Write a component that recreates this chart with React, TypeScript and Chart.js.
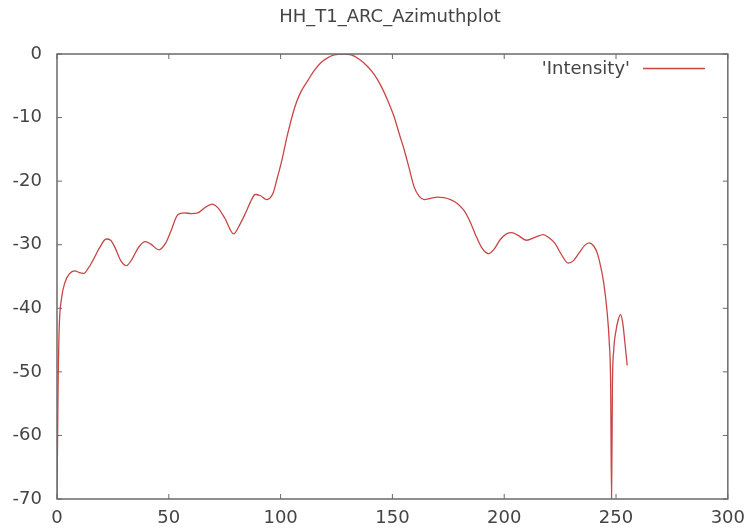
import React, { useEffect, useRef } from "react";
import { Chart, registerables } from "chart.js";

Chart.register(...registerables);

const TITLE = "HH_T1_ARC_Azimuthplot";
const SERIES_LABEL = "'Intensity'";
const X_TICKS = [0, 50, 100, 150, 200, 250, 300];
const Y_TICKS = [-70, -60, -50, -40, -30, -20, -10, 0];

const azimuth = [
  0, 0.5, 1, 2, 3.5, 5.5, 8, 10, 12, 14, 16, 19, 22, 24, 26, 28.5, 31, 33.5, 36.5, 39.5,
  42, 45.5, 48.5, 51, 54, 57, 60, 63, 66, 69.3, 72, 75, 79, 81.5, 84.2, 86.5, 88.6, 91,
  93.8, 96.5, 98.5, 100.5, 103, 106.4, 109, 112.3, 115, 118.2, 121, 124, 128, 131.6, 135,
  139, 142, 145, 148, 150.8, 153, 155.3, 157.5, 159.7, 162, 164.2, 167, 170, 173, 176,
  179, 182, 184.5, 187, 190, 193, 195.5, 198, 201, 203.5, 206, 210, 214, 217.5, 220,
  222.7, 225.5, 228.6, 231, 233.5, 236, 238, 240, 241.5, 243, 244.5, 246, 247, 247.6,
  248, 248.4, 249, 250, 251, 252, 253, 254, 255,
];

const intensity = [
  -70, -52, -43, -38.5, -36, -34.6, -34.1, -34.4, -34.5, -33.7, -32.5, -30.5, -29.1,
  -29.3, -30.5, -32.5, -33.3, -32.3, -30.4, -29.5, -29.9, -30.8, -29.8, -27.8, -25.3,
  -25.0, -25.1, -25.0, -24.2, -23.6, -24.2, -25.8, -28.3, -27.0, -25.1, -23.3, -22.1,
  -22.3, -22.9, -22.0, -19.5, -16.8, -12.8, -8.3, -6.0, -4.1, -2.6, -1.3, -0.6, -0.15,
  0, -0.15, -0.8, -2.0, -3.3, -5.1, -7.4, -9.9, -12.5, -15.1, -18.0, -20.9, -22.4,
  -22.9, -22.7, -22.5, -22.6, -22.9, -23.5, -24.6, -26.2, -28.3, -30.5, -31.4, -30.7,
  -29.3, -28.3, -28.1, -28.5, -29.3, -28.8, -28.4, -28.9, -29.8, -31.5, -32.9, -32.5,
  -31.3, -30.1, -29.7, -30.2, -31.2, -33.2, -36.0, -40.5, -45.5, -52, -70, -52, -46.5,
  -43.5, -41.8, -41.0, -42.3, -45.5, -49,
];

const LINE_COLOR = "#c84646";
const FRAME_COLOR = "#6a6a6a";
const TEXT_COLOR = "#444444";
const FONT_FAMILY = "'DejaVu Sans', sans-serif";

const framePlugin = {
  id: "gnuFrame",
  afterDraw(chart: any) {
    const { ctx, chartArea } = chart;
    const { left, right, top, bottom } = chartArea;
    const xs = chart.scales.x;
    const ys = chart.scales.y;
    ctx.save();
    ctx.strokeStyle = FRAME_COLOR;
    ctx.lineWidth = 1.5;
    ctx.strokeRect(left, top, right - left, bottom - top);
    ctx.lineWidth = 1;
    const tl = 5;
    ctx.beginPath();
    X_TICKS.forEach((v) => {
      const px = xs.getPixelForValue(v);
      ctx.moveTo(px, bottom);
      ctx.lineTo(px, bottom - tl);
      ctx.moveTo(px, top);
      ctx.lineTo(px, top + tl);
    });
    Y_TICKS.forEach((v) => {
      const py = ys.getPixelForValue(v);
      ctx.moveTo(left, py);
      ctx.lineTo(left + tl, py);
      ctx.moveTo(right, py);
      ctx.lineTo(right - tl, py);
    });
    ctx.stroke();

    // title
    ctx.fillStyle = TEXT_COLOR;
    ctx.font = `18px ${FONT_FAMILY}`;
    ctx.textAlign = "center";
    ctx.textBaseline = "middle";
    ctx.fillText(TITLE, 390, 17);

    // legend
    ctx.textAlign = "right";
    ctx.fillText(SERIES_LABEL, 630, 69);
    ctx.strokeStyle = LINE_COLOR;
    ctx.lineWidth = 1.3;
    ctx.beginPath();
    ctx.moveTo(643, 68.5);
    ctx.lineTo(705, 68.5);
    ctx.stroke();
    ctx.restore();
  },
};

export default function App() {
  const ref = useRef<HTMLCanvasElement | null>(null);

  useEffect(() => {
    document.body.style.margin = "0";
    const canvas = ref.current;
    if (!canvas) return;
    const points = azimuth.map((x, i) => ({ x, y: intensity[i] }));
    const chart = new Chart(canvas, {
      type: "line",
      data: {
        datasets: [
          {
            label: SERIES_LABEL,
            data: points,
            borderColor: LINE_COLOR,
            borderWidth: 1.3,
            pointRadius: 0,
            fill: false,
            cubicInterpolationMode: "monotone",
          },
        ],
      },
      options: {
        animation: false,
        responsive: false,
        maintainAspectRatio: false,
        layout: { padding: { left: 0, right: 22, top: 54, bottom: 0 } },
        plugins: {
          legend: { display: false },
          tooltip: { enabled: false },
          title: { display: false },
        },
        scales: {
          x: {
            type: "linear",
            min: 0,
            max: 300,
            afterFit: (s: any) => {
              s.height = 32;
            },
            afterBuildTicks: (s: any) => {
              s.ticks = X_TICKS.map((v) => ({ value: v }));
            },
            grid: { display: false, drawTicks: false },
            border: { display: false },
            ticks: {
              color: TEXT_COLOR,
              font: { family: FONT_FAMILY, size: 18 },
              padding: 9,
              maxRotation: 0,
            },
          },
          y: {
            type: "linear",
            min: -70,
            max: 0,
            afterFit: (s: any) => {
              s.width = 57;
            },
            afterBuildTicks: (s: any) => {
              s.ticks = Y_TICKS.map((v) => ({ value: v }));
            },
            grid: { display: false, drawTicks: false },
            border: { display: false },
            ticks: {
              color: TEXT_COLOR,
              font: { family: FONT_FAMILY, size: 18 },
              padding: 15,
            },
          },
        },
      },
      plugins: [framePlugin],
    });
    return () => chart.destroy();
  }, []);

  return <canvas ref={ref} width={754} height={531} style={{ display: "block" }} />;
}
